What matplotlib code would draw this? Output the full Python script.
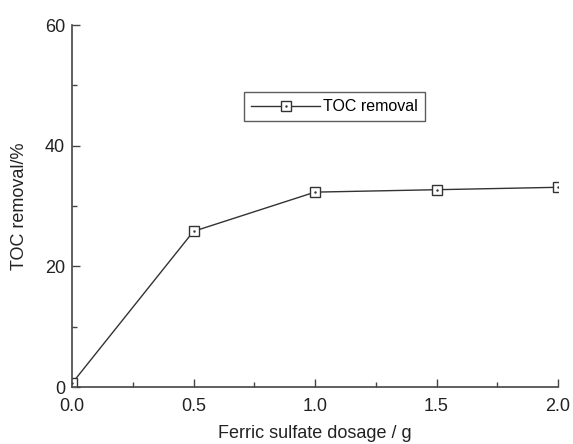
import matplotlib
matplotlib.use("Agg")
import matplotlib.pyplot as plt
from matplotlib.ticker import MultipleLocator
from matplotlib.legend_handler import HandlerTuple

dosage = [0.0, 0.5, 1.0, 1.5, 2.0]
toc_removal = [0.6, 25.8, 32.3, 32.7, 33.1]

plt.rcParams['font.family'] = ['Liberation Sans', 'DejaVu Sans']
fig = plt.figure(figsize=(5.73, 4.44), dpi=100)
ax = fig.add_axes([72/573, 1-387/444, (558-72)/573, (387-25)/444])

c = '#333333'
line, = ax.plot(dosage, toc_removal, color=c, lw=1.0, marker='s', markersize=7.5,
                markerfacecolor='white', markeredgecolor=c, markeredgewidth=1.0)
dots, = ax.plot(dosage, toc_removal, ls='none', marker='.', markersize=1.5, color=c)

ax.set_xlim(0, 2.0)
ax.set_ylim(0, 60)
ax.xaxis.set_major_locator(MultipleLocator(0.5))
ax.xaxis.set_minor_locator(MultipleLocator(0.25))
ax.yaxis.set_major_locator(MultipleLocator(20))
ax.yaxis.set_minor_locator(MultipleLocator(10))
ax.xaxis.set_major_formatter(matplotlib.ticker.FormatStrFormatter('%.1f'))
for s in ['top', 'right']:
    ax.spines[s].set_visible(False)
for s in ['left', 'bottom']:
    ax.spines[s].set_color('#444444')
    ax.spines[s].set_linewidth(1.2)
ax.tick_params(which='major', direction='in', length=6, width=1.0, color='#444444',
               labelsize=13, labelcolor='#222222', pad=5)
ax.tick_params(axis='x', which='major', pad=8)
ax.tick_params(which='minor', direction='in', length=3.5, width=1.0, color='#444444')

ax.set_xlabel('Ferric sulfate dosage / g', fontsize=13, color='#222222', labelpad=7)
ax.set_ylabel('TOC removal/%', fontsize=13, color='#222222', labelpad=12)

leg = ax.legend([(line, dots)], ['TOC removal'], handler_map={tuple: HandlerTuple(ndivide=1)},
                loc='upper left', bbox_to_anchor=((244-72)/486, 1-(92-25)/362),
                fontsize=11.5, frameon=True, fancybox=False, handlelength=4.3,
                borderpad=0.45, handletextpad=0.2, borderaxespad=0)
leg.get_frame().set_edgecolor('#333333')
leg.get_frame().set_linewidth(1.0)

fig.savefig('out.png', dpi=100)
